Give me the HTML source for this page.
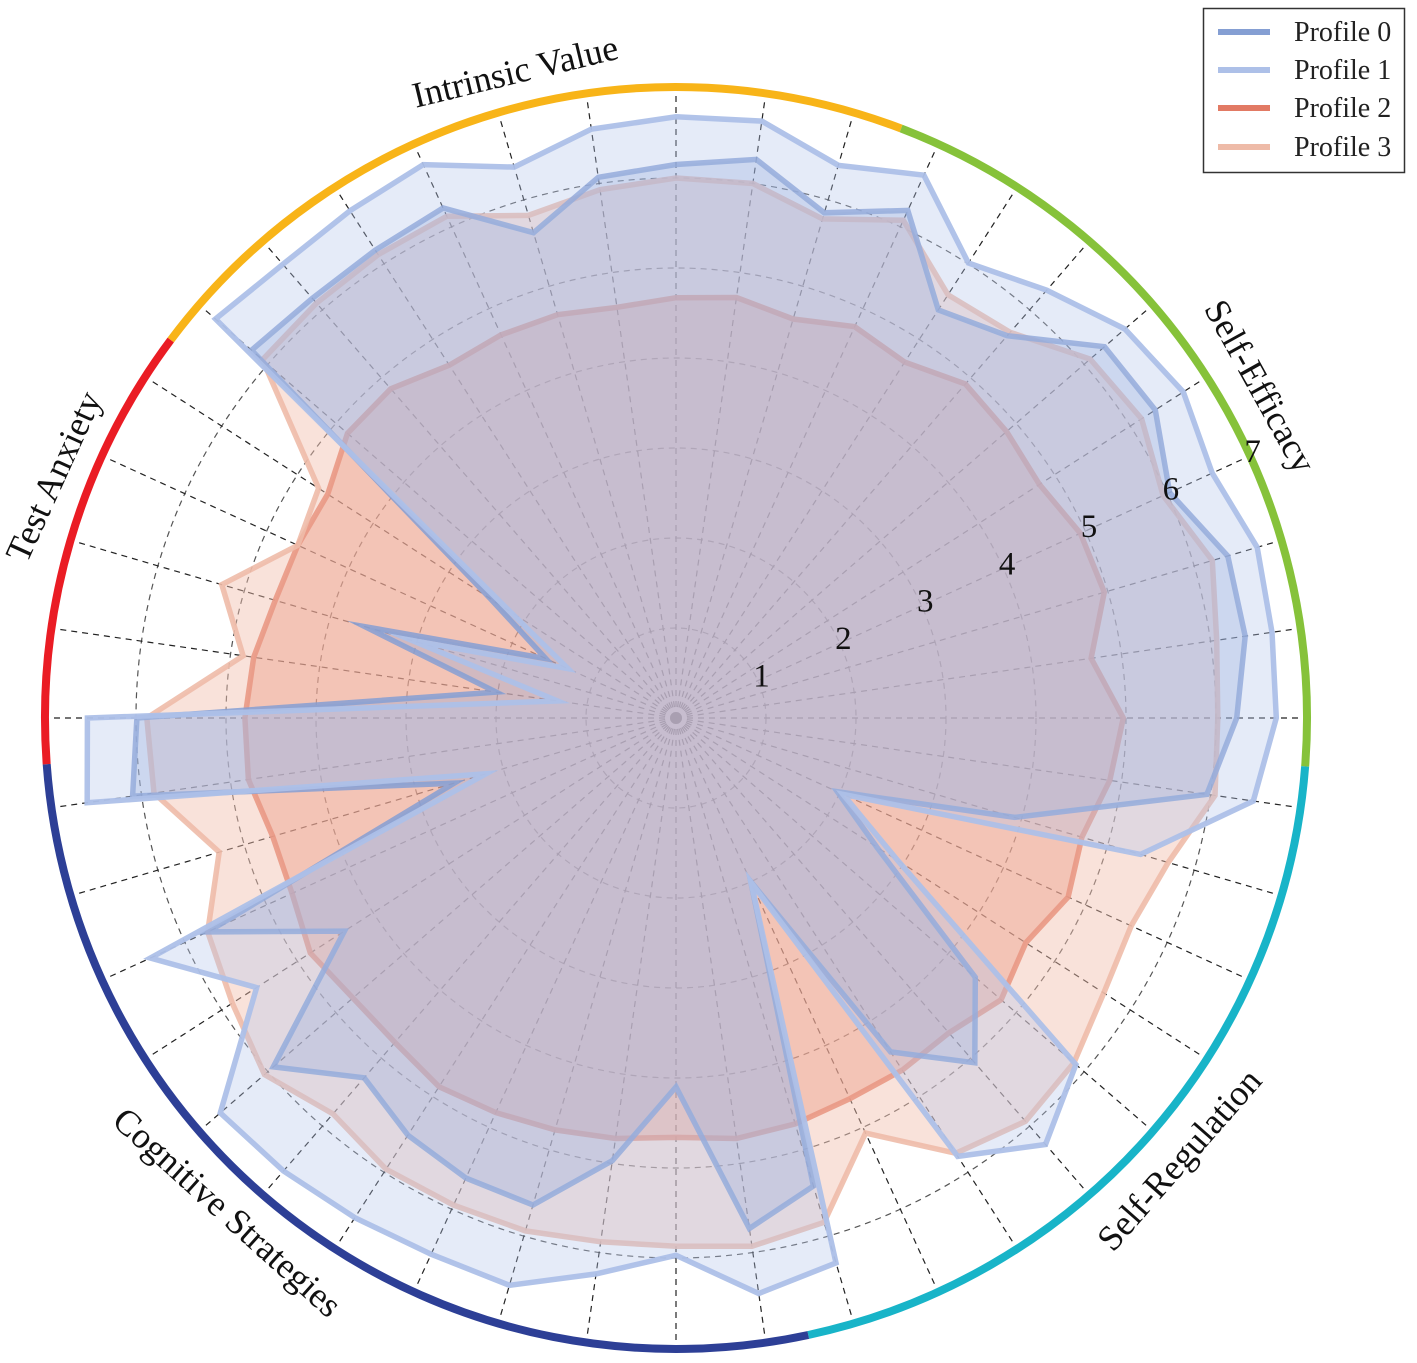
<!DOCTYPE html>
<html><head><meta charset="utf-8">
<style>
html,body{margin:0;padding:0;background:#fff;}
svg{display:block;font-family:"Liberation Serif",serif;}
</style></head>
<body>
<svg id="chart" width="1417" height="1363" viewBox="0 0 1417 1363" xmlns="http://www.w3.org/2000/svg">
  <g id="grid"></g>
  <g id="series"></g>
  <g id="arcs"></g>
  <g id="ticks"></g>
  <g font-size="36" fill="#111">
    <text x="0" y="0" text-anchor="middle" dominant-baseline="middle" transform="translate(516,75) rotate(-13.6)">Intrinsic Value</text>
    <text x="0" y="0" text-anchor="middle" dominant-baseline="middle" transform="translate(1257,388) rotate(61)">Self-Efficacy</text>
    <text x="0" y="0" text-anchor="middle" dominant-baseline="middle" transform="translate(1182,1162) rotate(-48.7)">Self-Regulation</text>
    <text x="0" y="0" text-anchor="middle" dominant-baseline="middle" transform="translate(225,1215) rotate(42)">Cognitive Strategies</text>
    <text x="0" y="0" text-anchor="middle" dominant-baseline="middle" transform="translate(57,478) rotate(-65.5)">Test Anxiety</text>
  </g>
  <g>
    <rect x="1203.5" y="8.5" width="201" height="164" fill="#fff" stroke="#333" stroke-width="1.5"/>
    <g>
      <line x1="1218" y1="32" x2="1270" y2="32" stroke="#859fd3" stroke-width="6"/>
      <text x="1294" y="41" font-size="28" fill="#222">Profile 0</text>
    </g>
    <g>
      <line x1="1218" y1="70" x2="1270" y2="70" stroke="#adc0e8" stroke-width="6"/>
      <text x="1294" y="79" font-size="28" fill="#222">Profile 1</text>
    </g>
    <g>
      <line x1="1218" y1="108" x2="1270" y2="108" stroke="#e27a64" stroke-width="6"/>
      <text x="1294" y="117" font-size="28" fill="#222">Profile 2</text>
    </g>
    <g>
      <line x1="1218" y1="147" x2="1270" y2="147" stroke="#eebba8" stroke-width="6"/>
      <text x="1294" y="156" font-size="28" fill="#222">Profile 3</text>
    </g>
  </g>
</svg>
<script>
const profile0 = [6.15,6.27,5.85,6.2,5.39,5.62,6.3,6.33,6.03,6.39,6.39,6.23,5.96,3.92,1.97,2.65,4.4,5.07,4.41,2.0,5.42,5.73,4.1,4.97,5.64,5.62,5.51,5.29,5.92,4.38,5.72,2.57,6.1,5.99,2.02,3.6,1.59,2.45,6.24,6.17,6.18,6.23,5.62,6.07];
const profile1 = [6.68,6.70,6.40,6.63,6.01,6.29,6.6,6.7,6.55,6.73,6.69,6.67,6.48,5.38,2.04,2.93,5.88,6.27,5.79,2.01,6.31,6.46,5.97,6.24,6.57,6.55,6.6,6.66,6.7,5.54,6.42,2.2,6.61,6.54,1.33,3.06,1.32,2.2,6.77,6.67,6.70,6.76,6.38,6.61];
const profile2 = [4.67,4.72,4.62,4.78,4.70,4.91,4.86,4.8,4.94,4.96,4.66,4.97,4.87,4.70,4.79,4.62,4.78,4.63,4.65,4.65,4.7,4.72,4.66,4.72,4.77,4.82,4.87,4.77,4.75,4.83,4.69,4.67,4.8,4.79,4.74,4.64,4.62,4.6,4.83,4.84,4.66,4.68,4.67,4.61];
const profile3 = [6.0,6.0,5.78,6.08,5.59,5.67,6.09,6.15,5.95,6.21,6.07,6.02,6.05,5.7,5.56,5.65,5.85,5.93,5.75,5.07,5.84,5.93,5.87,5.88,5.94,5.95,5.96,5.82,6.05,5.86,5.72,5.29,5.86,5.88,4.86,5.26,4.62,4.72,6.08,6.1,6.12,6.13,5.82,5.93];
const tickLabels = ["1","2","3","4","5","6","7"];
const sectionNames = ["intrinsic-value","self-efficacy","self-regulation","cognitive-strategies","test-anxiety"];
const sectionStart = [-53.2, 20.9, 94.4, 167.9, 265.8];
const sectionEnd = [20.9, 94.4, 167.9, 265.8, 306.8];

const NS = "http://www.w3.org/2000/svg";
const CX = 676, CY = 718, UNIT = 90, R = 631;
const N = profile0.length;
function ang(k){ return k * 360 / N; }
function px(deg, r){ const a = deg*Math.PI/180; return [CX + r*Math.sin(a), CY - r*Math.cos(a)]; }
function rScale(v){ return v * UNIT; }
function mk(tag, attrs, parent){ const e = document.createElementNS(NS, tag); for (const k in attrs) e.setAttribute(k, attrs[k]); parent.appendChild(e); return e; }

const grid = document.getElementById('grid');
for (let i = 1; i <= 6; i++) {
  const c = mk('circle', {cx:CX, cy:CY, r:rScale(i), fill:'none', stroke:'#555', 'stroke-width':1.2, 'stroke-dasharray':'6 5'}, grid);
  
  
}
for (let k = 0; k < N; k++) {
  const [x, y] = px(ang(k), 622);
  const l = mk('line', {x1:CX, y1:CY, x2:x, y2:y, stroke:'#222', 'stroke-width':1.2, 'stroke-dasharray':'6 5'}, grid);
  
  
}

const series = document.getElementById('series');
const specs = [
  {data: profile2, name:'profile-2', fill:'#e8866f', fo:0.45, stroke:'#e27a64', so:0.9},
  {data: profile3, name:'profile-3', fill:'#f2bfae', fo:0.45, stroke:'#eebba8', so:0.9},
  {data: profile0, name:'profile-0', fill:'#8aa3d6', fo:0.32, stroke:'#859fd3', so:0.85},
  {data: profile1, name:'profile-1', fill:'#b4c5ea', fo:0.35, stroke:'#adc0e8', so:0.95}
];
specs.forEach(s => {
  const pts = s.data.map((v, k) => px(ang(k), rScale(v)).map(n => n.toFixed(1)).join(',')).join(' ');
  const p = mk('polygon', {points:pts, fill:s.fill, 'fill-opacity':s.fo, stroke:s.stroke, 'stroke-opacity':s.so, 'stroke-width':5.5, 'stroke-linejoin':'miter', 'stroke-miterlimit':10}, series);
  
  
});

const arcs = document.getElementById('arcs');
const arcColors = ['#f8b418','#86c23a','#18b4c8','#2d3f96','#ea1c24'];
for (let i = 0; i < sectionStart.length; i++) {
  const [x1, y1] = px(sectionStart[i], R), [x2, y2] = px(sectionEnd[i], R);
  const large = (sectionEnd[i] - sectionStart[i]) > 180 ? 1 : 0;
  const a = mk('path', {d:`M${x1},${y1} A${R},${R} 0 ${large} 1 ${x2},${y2}`, fill:'none', stroke:arcColors[i], 'stroke-width':8}, arcs);
  
  
}

const ticks = document.getElementById('ticks');
tickLabels.forEach((t, i) => {
  const [x, y] = px(65.45, rScale(i + 1) + 4);
  const e = mk('text', {x:x, y:y, 'text-anchor':'middle', 'dominant-baseline':'middle', 'font-size':33, fill:'#111'}, ticks);
  e.textContent = t;
  
  
});
</script>
</body></html>
